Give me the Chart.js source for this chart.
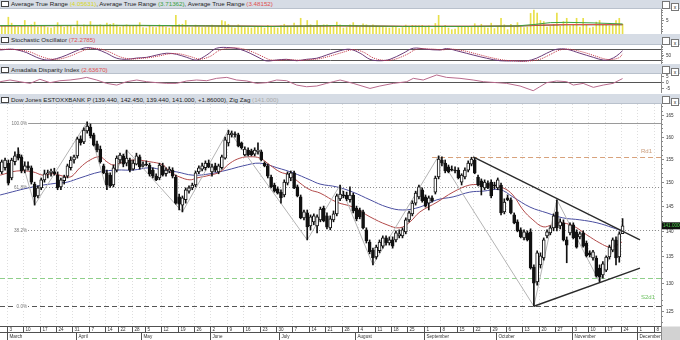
<!DOCTYPE html>
<html>
<head>
<meta charset="utf-8">
<script src="https://cdn.jsdelivr.net/npm/chart.js@4.4.1/dist/chart.umd.min.js"></script>
<style>
  body { margin:0; width:680px; height:340px; overflow:hidden; background:#fff; position:relative; font-family:"Liberation Sans", Arial, sans-serif; }
  .hdr { position:absolute; left:0; width:680px; background:#d6dce5; color:#1e1e1e; font-size:6.2px; white-space:nowrap; box-sizing:border-box; border-bottom:1px solid #b9c1cc; }
  .hdr .ico { display:inline-block; width:6px; height:4px; border:1px solid #444; background:#fff; margin:0 2px 0 1px; vertical-align:-1px; }
  .hdr .btns { position:absolute; right:1px; top:1px; }
  .hdr .btns span { display:inline-block; width:6px; height:6px; border:1px solid #777; background:#fff; margin-left:1px; font-size:5px; line-height:6px; text-align:center; }
  canvas { position:absolute; left:0; }
</style>
</head>
<body>

<div class="hdr" style="top:0;height:9px;line-height:8px"><span class="ico"></span>Average True Range <span style="color:#d8d820">(4.05631)</span>, Average True Range <span style="color:#3aa040">(3.71362)</span>, Average True Range <span style="color:#e05050">(3.48152)</span><div class="btns"><span></span><span>x</span></div></div>
<canvas id="atr" width="680" height="25" style="top:9px"></canvas>

<div class="hdr" style="top:34px;height:11px;line-height:12px"><span class="ico"></span>Stochastic Oscillator <span style="color:#e05050">(72.2785)</span><div class="btns" style="top:3px"><span></span><span>x</span></div></div>
<canvas id="sto" width="680" height="19" style="top:45px"></canvas>

<div class="hdr" style="top:64px;height:10px;line-height:11px"><span class="ico"></span>Amadalia Disparity Index <span style="color:#e05050">(2.63670)</span><div class="btns" style="top:2px"><span></span><span>x</span></div></div>
<canvas id="dis" width="680" height="19" style="top:74px"></canvas>

<div class="hdr" style="top:94px;height:10px;line-height:11px"><span class="ico"></span>Dow Jones ESTOXXBANK P (139.440, 142.450, 139.440, 141.000, +1.86000), Zig Zag <span style="color:#aaa">(141.000)</span><div class="btns" style="top:2px"><span></span><span>x</span></div></div>
<canvas id="main" width="680" height="236" style="top:104px"></canvas>

<script>
// trading-day index 0 = Mon 3 March; first candle is index -2
const firstIndex = -2;

const opens = [
  152.2,153.1,154.1,150.9,154.4,156.1,155.5,152.6,153.5,153.1,
  149.6,147.1,148.8,150.5,151.8,152.0,152.2,151.5,149.0,150.3,
  151.3,153.1,154.8,155.7,159.5,158.8,161.3,162.2,160.4,158.4,
  157.2,153.5,152.0,151.5,149.4,152.6,154.8,155.7,154.1,154.8,
  152.8,153.9,155.5,153.5,153.9,153.7,152.6,151.3,150.9,153.5,
  151.8,152.4,152.6,151.1,146.9,145.2,146.3,148.1,148.8,149.4,
  152.2,152.8,153.1,154.1,152.2,153.5,152.2,153.1,155.2,158.6,
  160.4,160.6,160.4,158.6,155.9,157.0,156.8,156.1,156.6,156.6,
  154.1,153.5,151.1,149.4,148.6,147.9,147.3,149.8,150.9,152.0,
  149.0,146.9,142.6,143.6,141.0,141.8,141.0,142.2,144.6,143.0,
  140.6,142.2,143.4,146.5,147.3,147.3,146.3,147.3,144.6,144.2,
  143.8,140.2,137.8,136.2,134.9,136.1,137.0,138.6,137.6,138.2,
  138.2,139.0,139.0,139.8,142.2,143.4,145.6,146.9,148.4,146.9,
  145.6,146.7,147.9,151.1,154.8,154.1,153.3,152.8,152.6,152.6,
  150.0,151.1,152.6,153.9,154.8,151.1,150.3,148.8,149.8,150.0,
  149.4,148.8,149.4,143.8,146.7,146.3,143.2,141.8,140.2,138.6,
  139.6,139.8,133.0,130.2,133.4,134.7,139.0,139.6,140.6,143.8,
  141.0,141.6,138.2,139.6,141.2,139.8,138.8,139.6,137.6,135.7,
  134.7,134.7,132.8,131.5,132.4,134.9,136.2,138.2,134.9,139.44
];
const highs = [
  154.8,155.2,154.8,155.2,156.6,157.5,155.9,154.4,154.4,153.5,
  150.0,149.2,150.9,152.6,152.6,152.8,153.0,152.2,150.9,151.5,
  153.9,155.5,155.9,159.9,160.2,162.0,163.4,162.9,160.8,159.0,
  157.9,153.9,152.6,152.0,153.7,155.7,156.3,156.1,157.0,155.2,
  154.8,156.3,155.9,154.4,154.6,154.1,153.1,151.8,154.1,154.1,
  153.1,153.3,153.1,151.5,147.5,147.1,148.8,149.2,149.8,152.4,
  153.5,154.1,154.6,154.8,153.9,154.1,153.9,155.9,159.9,161.5,
  161.3,161.1,160.8,158.8,157.7,157.5,157.2,157.5,158.6,157.0,
  154.4,153.9,151.5,149.8,149.0,148.4,150.5,152.2,152.4,152.4,
  149.4,147.3,144.2,144.2,143.2,143.4,143.2,144.8,145.0,143.6,
  143.0,144.0,147.5,149.4,148.1,147.9,149.0,147.7,145.0,144.6,
  144.2,140.6,138.2,136.6,137.2,138.2,139.0,139.0,138.8,138.8,
  140.0,140.2,140.6,142.6,144.0,146.1,148.1,149.4,148.8,147.3,
  147.1,147.1,151.3,155.7,155.5,154.8,153.7,153.5,153.3,153.1,
  151.8,153.1,154.6,155.4,155.2,151.5,150.7,150.5,150.3,150.5,
  150.0,150.9,149.8,146.5,147.3,146.7,143.6,142.2,140.6,140.2,
  140.0,140.4,133.4,136.1,135.7,138.6,140.2,141.0,143.4,146.3,
  142.4,142.2,138.8,141.6,141.6,140.2,139.8,140.0,138.0,136.1,
  136.2,135.1,133.4,134.0,135.1,137.2,138.6,138.8,139.8,142.45
];
const lows = [
  151.8,152.6,149.4,150.5,153.7,154.8,152.0,152.0,152.6,149.6,
  145.2,146.7,148.4,150.0,150.9,151.3,151.5,148.4,148.4,149.6,
  150.9,152.6,154.1,155.2,158.1,158.4,160.8,159.7,157.9,156.6,
  154.1,151.8,148.4,148.9,149.0,152.2,154.1,153.3,153.5,152.2,
  152.6,153.7,152.8,153.3,153.5,151.3,150.9,150.3,150.5,151.3,
  151.3,152.0,150.9,145.4,144.2,143.8,145.6,147.7,148.4,149.0,
  151.8,152.4,152.6,153.1,151.3,152.2,151.8,152.8,155.0,157.9,
  159.9,159.9,157.7,157.2,155.7,155.7,155.7,155.7,156.1,154.6,
  153.3,150.9,148.8,147.9,147.5,145.6,146.9,149.4,150.3,148.6,
  146.9,142.4,142.2,138.2,140.2,141.2,139.6,141.8,141.8,140.4,
  140.2,141.8,143.0,146.1,146.7,146.1,145.8,143.6,142.0,142.4,
  140.4,137.6,135.5,133.4,134.5,135.7,136.6,137.2,137.2,136.6,
  137.8,138.6,138.6,139.4,141.8,143.0,145.2,146.5,145.8,144.8,
  144.2,145.8,147.5,150.7,153.5,152.0,152.0,152.4,152.0,150.7,
  149.4,150.7,152.2,153.5,151.8,149.2,147.3,148.4,148.6,146.7,
  148.6,148.4,143.2,143.4,146.1,143.4,141.4,139.8,138.6,138.2,
  138.0,132.6,125.8,129.6,132.8,134.3,138.6,139.2,140.0,140.0,
  140.4,138.0,133.8,139.2,138.4,136.6,138.4,136.8,134.9,134.9,
  134.3,131.1,130.2,130.9,132.1,134.5,135.9,133.4,133.9,139.44
];
const closes = [
  154.4,154.8,149.8,154.8,155.7,155.2,152.4,153.5,153.1,150.0,
  146.9,148.8,150.5,151.8,152.0,152.4,151.8,148.8,150.5,151.1,
  153.5,154.8,155.5,159.5,158.6,161.5,162.4,160.2,158.1,157.0,
  154.4,152.0,149.4,149.2,153.1,155.2,155.9,153.9,155.2,152.6,
  154.1,155.7,153.3,153.9,153.7,151.8,151.3,150.5,153.7,151.5,
  152.6,152.8,151.3,145.6,145.4,146.7,148.4,148.8,149.4,152.0,
  153.1,153.5,154.1,153.3,153.3,152.6,153.5,155.5,159.3,160.6,
  160.8,160.4,157.9,157.5,157.2,155.9,155.9,157.0,157.0,154.8,
  153.5,151.3,149.0,148.1,147.7,146.7,150.0,151.8,152.0,148.8,
  147.1,142.6,143.8,140.8,142.8,143.0,142.8,144.4,142.0,140.8,
  142.4,143.4,147.1,147.5,147.1,146.5,147.3,144.0,142.4,142.8,
  140.6,138.0,135.9,134.7,136.8,137.8,138.6,137.6,138.2,137.0,
  139.6,139.4,140.2,142.2,143.6,145.6,147.7,149.0,146.1,145.0,
  146.7,146.1,150.9,155.0,154.1,152.4,152.2,152.6,152.4,150.9,
  151.5,152.6,154.1,155.0,152.0,149.4,149.0,150.0,148.8,147.1,
  149.2,150.5,143.6,145.8,146.3,143.6,141.6,140.0,138.8,139.8,
  138.2,132.8,130.0,135.7,135.1,138.2,139.8,140.6,143.0,140.6,
  141.8,138.2,137.2,141.2,138.6,136.8,139.4,137.0,135.1,135.3,
  135.9,131.3,131.1,133.6,134.9,136.8,138.2,134.7,139.4,141.0
];

// daily true range bars (ATR pane)
const trueRange = [
  3.0,2.8,6.2,4.0,2.9,2.6,3.2,5.0,2.7,3.4,
  4.4,2.6,2.8,2.9,2.4,2.2,2.6,4.2,2.9,2.5,
  3.0,3.1,2.4,4.8,2.6,3.4,2.9,4.6,3.0,2.8,
  3.4,3.2,4.0,3.6,3.9,3.3,2.6,3.1,3.4,3.2,
  2.8,3.0,4.2,2.4,2.2,3.0,2.6,2.4,3.4,3.0,
  2.6,2.2,3.0,6.9,3.5,3.6,5.0,2.4,2.4,3.3,
  2.6,2.4,2.6,2.6,3.3,2.6,2.9,5.0,4.6,3.6,
  2.4,2.2,3.4,2.6,2.4,2.4,2.2,2.6,2.8,2.8,
  2.2,3.2,2.9,2.4,2.2,3.1,3.6,3.0,2.4,4.0,
  3.0,5.8,2.6,5.0,3.4,2.6,5.0,3.2,3.4,3.4,
  3.0,2.6,4.4,3.4,2.2,2.4,3.4,4.2,3.2,2.6,
  3.8,3.4,2.9,3.4,2.9,2.6,2.6,2.4,2.2,2.6,
  2.6,2.0,2.4,3.3,2.6,3.2,3.1,3.0,3.2,2.8,
  3.0,1.8,3.9,6.9,2.6,3.2,2.2,1.6,1.8,2.8,
  2.8,2.7,2.8,2.4,3.8,2.7,3.6,2.4,2.2,4.0,
  2.0,2.8,5.8,3.4,1.6,3.6,2.6,4.2,2.6,2.4,
  2.6,7.6,8.8,7.7,5.0,4.6,2.6,2.8,3.6,7.7,
  2.8,4.6,5.8,3.0,3.6,5.8,2.6,5.8,3.4,2.2,
  2.6,4.4,5.0,3.4,3.2,3.0,3.4,5.0,5.8,3.6
];
const atrDark  = [[-2.5,3.0],[20,3.1],[40,3.1],[60,3.0],[80,2.8],[100,3.0],[120,2.8],[140,2.8],[155,2.9],[162,3.2],[170,3.4],[180,3.4],[187,3.4]];
const atrGreen = [[-2.5,3.1],[20,3.2],[40,3.2],[60,3.0],[80,2.8],[100,3.1],[120,2.8],[140,2.8],[155,3.0],[160,3.5],[165,4.2],[170,4.3],[178,4.1],[187,3.71]];
const atrRed   = [[-2.5,3.0],[20,3.1],[40,3.1],[60,3.0],[80,2.9],[100,3.0],[120,2.9],[140,2.9],[155,3.0],[162,3.3],[170,3.5],[180,3.5],[187,3.48]];

// stochastic %K (solid) and %D (dotted)
const stochK = [[-2.5,76],[1.5,80],[5.6,61],[8.6,35],[11.7,20],[14.7,28],[17.8,48],[20.8,72],[23.8,89],[26.9,80],[29.9,58],[33,30],[36,24],[39.1,31],[42.1,35],[45.2,48],[48.2,58],[51.2,52],[54.3,35],[57.3,20],[60.4,48],[63.4,86],[67.5,89],[70.5,80],[73.6,58],[76.6,30],[78.6,15],[81.7,20],[84.7,24],[87.8,16],[90.8,24],[93.9,30],[96.9,48],[101,72],[104,80],[107.1,58],[110.1,24],[113.1,16],[116.2,24],[120.2,58],[123.3,86],[127.4,80],[131.4,76],[133.4,84],[137.5,67],[141.5,48],[145.6,30],[149.7,16],[153.7,15],[157.8,15],[160.8,30],[163.9,58],[166.9,80],[170,80],[174,58],[178.1,35],[181.1,20],[183.2,24],[185.2,43],[187,72]];
const stochD = [[-2.5,80],[2.5,78],[6.6,65],[9.6,42],[12.7,26],[15.7,26],[18.8,42],[21.8,65],[24.8,84],[27.9,82],[30.9,64],[34,38],[37,26],[40.1,29],[43.1,34],[46.2,44],[49.2,55],[52.2,54],[55.3,40],[58.3,25],[61.4,40],[64.4,75],[68.5,88],[71.5,82],[74.6,63],[77.6,38],[79.6,22],[82.7,19],[85.7,22],[88.8,19],[91.8,22],[94.9,28],[97.9,42],[102,64],[105,78],[108.1,64],[111.1,32],[114.1,19],[117.2,22],[121.2,50],[124.3,80],[128.4,82],[132.4,77],[134.4,82],[138.5,72],[142.5,54],[146.6,35],[150.7,20],[154.7,15],[158.8,15],[161.8,24],[164.9,50],[167.9,76],[171,80],[175,64],[179.1,40],[182.1,24],[184.2,24],[186.2,36],[187,55]];
const stochLevels = [80, 20];

// disparity index
const disparity = [[-2.5,0],[0.5,1.4],[3.5,0],[6.6,-1.4],[9.6,2.0],[12.7,-0.8],[15.7,0.8],[18.8,1.4],[21.8,2.5],[23.8,3.6],[26.9,1.4],[29.9,-1.4],[33,-2.8],[36,0],[39.1,1.4],[42.1,0],[45.2,-0.8],[48.2,-1.4],[51.2,-1.4],[54.3,0.6],[57.3,1.4],[60.4,0.8],[63.4,2.8],[66.5,3.6],[69.5,1.4],[72.6,0.6],[75.6,-1.4],[78.6,-0.8],[81.7,1.4],[84.7,0.8],[87.8,-2.8],[90.8,-4.2],[93.9,-3.6],[96.9,-1.4],[98.9,0],[101,1.4],[105,-1.4],[110.1,-5.6],[113.1,-3.6],[117.2,-1.4],[121.3,0],[123.3,2.8],[126.3,1.4],[130.4,5.6],[133.4,3.6],[137.5,2.8],[141.5,1.4],[144.6,0],[148.7,-0.8],[151.7,-1.4],[155.8,-3.6],[159.8,-7.5],[161.8,-4.2],[163.9,-0.8],[166.9,0.6],[170,0],[172,-2.8],[175,-1.4],[178.1,-4.7],[181.1,-2.8],[184.1,-1.4],[187,2.6]];

// moving averages on the price pane
const maFast = [[-2.5,151.5],[2.6,152.4],[7.5,152.2],[10.5,151.5],[13.6,151.8],[17.9,151.1],[19.4,151.3],[21.8,153.1],[24.9,154.8],[27.9,155.5],[30,154.4],[31.9,153.7],[34,154.1],[38,154.8],[43.1,154.4],[47.1,153.7],[49.2,152.2],[52.2,151.1],[55.3,150.5],[57.4,150.9],[61.4,151.5],[64.4,152.2],[67.5,154.1],[70.5,155.2],[73.6,155.5],[76.6,155.2],[79.6,153.7],[82.7,152.2],[85.7,151.5],[88.8,149.8],[91.8,148.4],[94.9,147.7],[100,145.8],[104.9,144.8],[110.1,142.8],[115.3,141.2],[119.2,140.6],[122.3,141.8],[125.3,143.8],[130.5,145.8],[135.4,147.9],[140.5,149.4],[144.5,149.4],[146.6,149.4],[150.6,148.8],[153.6,147.3],[156.7,144.2],[159.7,142.2],[162.8,140.8],[165.5,141.2],[168,141.6],[171.9,141.0],[176.1,139.2],[180.1,137.6],[183.1,136.8],[185.3,137.2],[186.8,137.8]];
const maSlow = [[-2.5,147.3],[7.5,149.0],[14.8,149.8],[17.9,150.0],[21.8,150.9],[27.9,152.2],[33.1,152.6],[38,152.6],[43.1,153.1],[47.1,152.6],[51.3,152.2],[56.2,151.5],[61.4,151.8],[66.6,152.6],[71.4,153.5],[76.6,154.1],[81.8,153.1],[86.7,152.0],[91.8,150.5],[94.9,149.6],[100,149.0],[104.9,147.9],[110.1,146.3],[115.3,144.8],[120.1,144.2],[125.3,144.8],[130.5,146.3],[135.4,146.9],[140.5,147.9],[144.5,148.1],[149.7,148.4],[153.6,146.9],[158.8,144.8],[164,143.6],[168.8,142.6],[174,142.2],[179.2,141.6],[184.1,140.6],[186.8,140.0]];
const zigZag = [[3,157.5],[8,145.2],[24,163.4],[30,148.4],[36,157.0],[53,143.8],[67,161.5],[91,138.2],[101,149.4],[111,133.4],[131,155.7],[160,125.8],[167,146.3],[180,130.2],[187,141.0]];
const trendHigh = [[141.5,155.5],[192.3,138.2]];
const trendLow  = [[160,125.8],[192.3,132.8]];

// horizontal levels
const fibLabels = ['100.0%','61.8%','38.2%','0.0%'];
const fibValues = [163.2, 148.95, 140.15, 125.9];
const fibStart = 6;
const supportValue = 131.0, supportLabel = 'S2d1', supportLabelValue = 126.9;
const resistValue = 155.4, resistLabel = 'Rd1', resistStart = 129;
const lastPrice = 141.0;

// axis labels
const priceTicks = [125,130,135,140,145,150,155,160,165];
const weekIdx = [0,5,10,15,20,25,30,34,38,42,47,52,57,62,67,72,77,82,87,92,97,102,107,112,117,122,127,132,137,142,147,152,157,162,167,172,177,182,187,192,197];
const weekLabels = ['3','10','17','24','31','7','14','22','28','5','12','19','26','2','9','16','23','30','7','14','21','28','4','11','18','25','1','8','15','22','29','6','13','20','27','3','10','17','24','1','8'];
const monthIdx = [0,21,41,62,83,106,127,149,172,192];
const monthLabels = ['March','April','May','June','July','August','September','October','November','December'];

const X_MIN = -2.54, X_MAX = 198.7;
const AXIS_W = 19;
const FONT = '"Liberation Sans", Arial, sans-serif';

const pts = arr => arr.map(p => ({x:p[0], y:p[1]}));
const days = opens.map((_, k) => firstIndex + k);

function baseOptions(y, bottom) {
  return {
    responsive:false, animation:false, events:[],
    layout:{padding:{left:0, right:AXIS_W, top:0, bottom:bottom || 0}},
    plugins:{legend:{display:false}, tooltip:{enabled:false}},
    scales:{
      x:{type:'linear', min:X_MIN, max:X_MAX, offset:false, display:false},
      y:Object.assign({display:false, offset:false}, y)
    }
  };
}
function lineDs(data, color, width, extra) {
  return Object.assign({type:'line', data:pts(data), borderColor:color, borderWidth:width, pointRadius:0, fill:false, tension:0}, extra || {});
}

// right-hand value axis drawn against the chart's own y scale
function sideAxis(id, ticks, minorStep, fmt) {
  return {
    id,
    afterDraw(chart) {
      const {ctx, chartArea:a, scales:{y}} = chart;
      ctx.save();
      ctx.strokeStyle = '#8a8a8a'; ctx.lineWidth = 1;
      ctx.beginPath(); ctx.moveTo(a.right + 0.5, 0); ctx.lineTo(a.right + 0.5, chart.height); ctx.stroke();
      if (minorStep) {
        for (let v = Math.ceil(y.min / minorStep) * minorStep; v <= y.max; v += minorStep) {
          const py = Math.round(y.getPixelForValue(v)) + 0.5;
          ctx.beginPath(); ctx.moveTo(a.right, py); ctx.lineTo(a.right + 2, py); ctx.stroke();
        }
      }
      ctx.fillStyle = '#333'; ctx.font = '4.6px ' + FONT; ctx.textBaseline = 'middle'; ctx.textAlign = 'left';
      ticks.forEach(v => {
        const py = Math.round(y.getPixelForValue(v)) + 0.5;
        ctx.beginPath(); ctx.moveTo(a.right, py); ctx.lineTo(a.right + 3, py); ctx.stroke();
        ctx.fillText(fmt ? fmt(v) : String(v), a.right + 5, py);
      });
      ctx.restore();
    }
  };
}

// ---- ATR pane
new Chart(document.getElementById('atr'), {
  type:'bar',
  data:{datasets:[
    lineDs(atrGreen, '#3aa040', 1, {order:1}),
    lineDs(atrRed, '#e05050', 1, {order:1}),
    lineDs(atrDark, '#4a4a2a', 1, {order:1}),
    {type:'bar', data:days.map((d, k) => ({x:d, y:trueRange[k]})), backgroundColor:'#e8e04a', barThickness:1, grouped:false, order:5}
  ]},
  options:baseOptions({min:0, max:9.23}),
  plugins:[sideAxis('atrAxis', [5], 1)]
});

// ---- Stochastic pane
const stoLines = {
  id:'stoLines',
  beforeDatasetsDraw(chart) {
    const {ctx, chartArea:a, scales:{y}} = chart;
    ctx.save(); ctx.strokeStyle = '#555'; ctx.lineWidth = 1;
    stochLevels.forEach(v => {
      const py = Math.round(y.getPixelForValue(v)) + 0.5;
      ctx.beginPath(); ctx.moveTo(a.left, py); ctx.lineTo(a.right, py); ctx.stroke();
    });
    ctx.restore();
  }
};
new Chart(document.getElementById('sto'), {
  type:'line',
  data:{datasets:[
    lineDs(stochD, '#c03040', 1, {borderDash:[1,1], tension:0.35}),
    lineDs(stochK, '#6a3a78', 1, {tension:0.35})
  ]},
  options:baseOptions({min:-2.2, max:103.9}),
  plugins:[stoLines, sideAxis('stoAxis', [50], 10)]
});

// ---- Disparity pane
const disZero = {
  id:'disZero',
  beforeDatasetsDraw(chart) {
    const {ctx, chartArea:a, scales:{y}} = chart;
    const py = Math.round(y.getPixelForValue(0)) + 0.5;
    ctx.save(); ctx.strokeStyle = '#555'; ctx.lineWidth = 1;
    ctx.beginPath(); ctx.moveTo(a.left, py); ctx.lineTo(a.right, py); ctx.stroke();
    ctx.restore();
  }
};
new Chart(document.getElementById('dis'), {
  type:'line',
  data:{datasets:[lineDs(disparity, '#b86a8c', 1)]},
  options:baseOptions({min:-9.4, max:6.4}),
  plugins:[disZero, sideAxis('disAxis', [5, 0, -5], 0)]
});

// ---- Price pane
const weekGrid = {
  id:'weekGrid',
  beforeDatasetsDraw(chart) {
    const {ctx, chartArea:a, scales:{x}} = chart;
    ctx.save(); ctx.strokeStyle = '#dedede'; ctx.lineWidth = 1; ctx.setLineDash([1, 2]);
    weekIdx.forEach(d => {
      const px = Math.round(x.getPixelForValue(d - 0.5)) + 0.5;
      ctx.beginPath(); ctx.moveTo(px, a.top); ctx.lineTo(px, a.bottom); ctx.stroke();
    });
    ctx.restore();
  }
};

const levels = {
  id:'levels',
  beforeDatasetsDraw(chart) {
    const {ctx, chartArea:a, scales:{x, y}} = chart;
    const yp = v => Math.round(y.getPixelForValue(v)) + 0.5;
    const x0 = x.getPixelForValue(fibStart);
    ctx.save(); ctx.lineWidth = 1;
    const styles = [[ '#9a9a9a', [] ], [ '#8a8a8a', [1, 2] ], [ '#8a8a8a', [1, 2] ], [ '#555', [5, 3] ]];
    fibValues.forEach((v, k) => {
      ctx.strokeStyle = styles[k][0]; ctx.setLineDash(styles[k][1]);
      ctx.beginPath(); ctx.moveTo(k === 3 ? a.left : x0, yp(v)); ctx.lineTo(a.right, yp(v)); ctx.stroke();
    });
    ctx.strokeStyle = '#8fcf8a'; ctx.setLineDash([5, 3]);
    ctx.beginPath(); ctx.moveTo(a.left, yp(supportValue)); ctx.lineTo(a.right, yp(supportValue)); ctx.stroke();
    ctx.strokeStyle = '#d8a27c';
    ctx.beginPath(); ctx.moveTo(x.getPixelForValue(resistStart), yp(resistValue)); ctx.lineTo(a.right, yp(resistValue)); ctx.stroke();
    ctx.setLineDash([]);
    ctx.font = '4.6px ' + FONT; ctx.textBaseline = 'middle'; ctx.textAlign = 'right';
    fibLabels.forEach((t, k) => {
      const w = ctx.measureText(t).width;
      ctx.fillStyle = '#fff'; ctx.fillRect(x0 - w - 2, yp(fibValues[k]) - 2.5, w + 2, 5);
      ctx.fillStyle = '#777'; ctx.fillText(t, x0 - 1, yp(fibValues[k]));
    });
    ctx.font = '6px ' + FONT; ctx.textAlign = 'left';
    ctx.fillStyle = '#c99a78'; ctx.fillText(resistLabel, a.right - 20, yp(resistValue) - 6);
    ctx.fillStyle = '#6cc060'; ctx.fillText(supportLabel, a.right - 20, yp(supportLabelValue) - 3);
    ctx.restore();
  }
};

const dateStrip = {
  id:'dateStrip',
  afterDraw(chart) {
    const {ctx, chartArea:a, scales:{x}} = chart;
    const top = Math.round(a.bottom) + 0.5, mid = top + 6, bot = chart.height;
    ctx.save();
    ctx.fillStyle = '#fff'; ctx.fillRect(0, top, a.right, bot - top);
    ctx.fillStyle = '#d2d2d2'; ctx.fillRect(a.right + 1, top, chart.width - a.right, bot - top);
    ctx.strokeStyle = '#505050'; ctx.lineWidth = 1;
    ctx.beginPath(); ctx.moveTo(0, top); ctx.lineTo(a.right, top); ctx.moveTo(0, mid); ctx.lineTo(a.right, mid); ctx.stroke();
    ctx.fillStyle = '#333'; ctx.font = '4.6px ' + FONT; ctx.textBaseline = 'middle'; ctx.textAlign = 'left';
    weekIdx.forEach((d, k) => {
      const px = Math.round(x.getPixelForValue(d - 0.5)) + 0.5;
      ctx.beginPath(); ctx.moveTo(px, top); ctx.lineTo(px, mid); ctx.stroke();
      ctx.fillText(weekLabels[k], px + 2, top + 3.2);
    });
    monthIdx.forEach((d, k) => {
      const px = Math.round(x.getPixelForValue(d - 0.5)) + 0.5;
      ctx.beginPath(); ctx.moveTo(px, mid); ctx.lineTo(px, bot); ctx.stroke();
      ctx.fillText(monthLabels[k], px + 2, mid + 4.2);
    });
    ctx.restore();
  }
};

const priceTag = {
  id:'priceTag',
  afterDraw(chart) {
    const {ctx, chartArea:a, scales:{y}} = chart;
    const py = y.getPixelForValue(lastPrice);
    ctx.save();
    ctx.fillStyle = '#111'; ctx.fillRect(a.right + 1, py - 3.5, chart.width - a.right - 1, 7);
    ctx.fillStyle = '#4cd24c'; ctx.font = '4.6px ' + FONT; ctx.textBaseline = 'middle'; ctx.textAlign = 'left';
    ctx.fillText(lastPrice.toFixed(4), a.right + 2, py);
    ctx.restore();
  }
};

const upDown = days.map((_, k) => closes[k] >= opens[k]);
new Chart(document.getElementById('main'), {
  type:'bar',
  data:{datasets:[
    lineDs(trendHigh, '#2a2a2a', 1.4, {order:0}),
    lineDs(trendLow, '#2a2a2a', 1.4, {order:0}),
    {type:'bar', data:days.map((d, k) => ({x:d, y:[opens[k], closes[k]]})),
      backgroundColor:upDown.map(u => u ? '#fff' : '#111'), borderColor:'#111', borderWidth:1, borderSkipped:false,
      barThickness:3, minBarLength:1, grouped:false, order:2},
    {type:'bar', data:days.map((d, k) => ({x:d, y:[lows[k], highs[k]]})),
      backgroundColor:'#111', barThickness:1, grouped:false, order:3},
    lineDs(zigZag, '#b4b4b4', 1, {order:4}),
    lineDs(maFast, '#b24a4a', 1, {order:4, tension:0.4}),
    lineDs(maSlow, '#4a4ea0', 1, {order:4, tension:0.4})
  ]},
  options:baseOptions({type:'logarithmic', min:122.32, max:167.59}, 14),
  plugins:[weekGrid, levels, sideAxis('priceAxis', priceTicks, 1), priceTag, dateStrip]
});
</script>
</body>
</html>
